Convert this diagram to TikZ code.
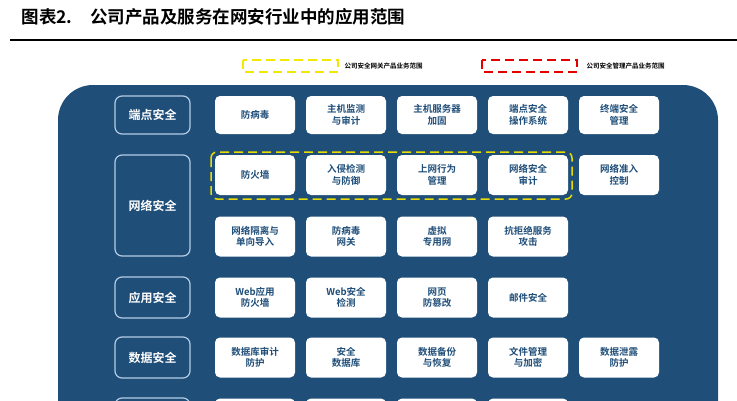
\documentclass[tikz,border=0pt]{standalone}
\usepackage{fontspec}
\setmainfont{Noto Sans CJK SC}[BoldFont={Noto Sans CJK SC Bold}]
\begin{document}
\begin{tikzpicture}[x=1pt,y=-1pt,
  cat/.style={draw=catline,line width=1.2pt,rounded corners=7pt,fill=panel,text=white,font=\bfseries\fontsize{12}{14}\selectfont,minimum width=75pt,align=center},
  item/.style={fill=white,rounded corners=5pt,text=panel,font=\bfseries\fontsize{9.5}{11.5}\selectfont,minimum width=80pt,minimum height=40pt,align=center,inner sep=1pt},
  leg/.style={font=\bfseries\fontsize{6.5}{7}\selectfont,anchor=west}]
\definecolor{panel}{HTML}{1F4E79}
\definecolor{catline}{HTML}{B4CCE4}
\clip (0,0) rectangle (737,400);
\useasboundingbox (0,0) rectangle (737,400);
\fill[white] (0,0) rectangle (737,400);
\node[anchor=west,font=\bfseries\fontsize{17.5}{19}\selectfont] (title) at (18,17) {图表2.\quad 公司产品及服务在网安行业中的应用范围};
\draw[line width=2.5pt] (10,40) -- (737,40);
\draw[yellow!90!olive,dash pattern=on 9pt off 5pt,line width=1.3pt] (243,60) rectangle (338,72);
\node[leg] (l1) at (341,66) {公司安全网关产品业务范围};
\draw[red!90!black,dash pattern=on 9pt off 5pt,line width=1.3pt] (482,60) rectangle (577,72);
\node[leg] (l2) at (583,66) {公司安全管理产品业务范围};
\fill[panel,rounded corners=35pt] (58,85) rectangle (718,460);
\node[cat,minimum height=38pt] (c1) at (152.5,115) {端点安全};
\node[cat,minimum height=101pt] (c2) at (152.5,205.5) {网络安全};
\node[cat,minimum height=41pt] (c3) at (152.5,297.5) {应用安全};
\node[cat,minimum height=41pt] (c4) at (152.5,357.5) {数据安全};
\node[cat,minimum height=41pt] (c5) at (152.5,418.5) {};
\foreach \r/\y in {1/115,2/175,3/236.5,4/297.5,5/357.5,6/418.5}{
  \foreach \c/\x in {1/255,2/346,3/437,4/528,5/619}{
    \coordinate (p\r\c) at (\x,\y);
  }}
\node[item,minimum height=38pt] (e1) at (p11) {防病毒};
\node[item,minimum height=38pt] (e2) at (p12) {主机监测\\与审计};
\node[item,minimum height=38pt] (e3) at (p13) {主机服务器\\加固};
\node[item,minimum height=38pt] (e4) at (p14) {端点安全\\操作系统};
\node[item,minimum height=38pt] (e5) at (p15) {终端安全\\管理};
\node[item] (n1) at (p21) {防火墙};
\node[item] (n2) at (p22) {入侵检测\\与防御};
\node[item] (n3) at (p23) {上网行为\\管理};
\node[item] (n4) at (p24) {网络安全\\审计};
\node[item] (n5) at (p25) {网络准入\\控制};
\node[item] (m1) at (p31) {网络隔离与\\单向导入};
\node[item] (m2) at (p32) {防病毒\\网关};
\node[item] (m3) at (p33) {虚拟\\专用网};
\node[item] (m4) at (p34) {抗拒绝服务\\攻击};
\node[item] (a1) at (p41) {Web应用\\防火墙};
\node[item] (a2) at (p42) {Web安全\\检测};
\node[item] (a3) at (p43) {网页\\防篡改};
\node[item] (a4) at (p44) {邮件安全};
\node[item] (d1) at (p51) {数据库审计\\防护};
\node[item] (d2) at (p52) {安全\\数据库};
\node[item] (d3) at (p53) {数据备份\\与恢复};
\node[item] (d4) at (p54) {文件管理\\与加密};
\node[item] (d5) at (p55) {数据泄露\\防护};
\foreach \c in {1,2,3,4}{\node[item] (z\c) at (p6\c) {};}
\draw[yellow!80!olive,dash pattern=on 9pt off 5pt,line width=1.5pt,rounded corners=6pt] (211,152) rectangle (572,199);
\end{tikzpicture}
\end{document}
